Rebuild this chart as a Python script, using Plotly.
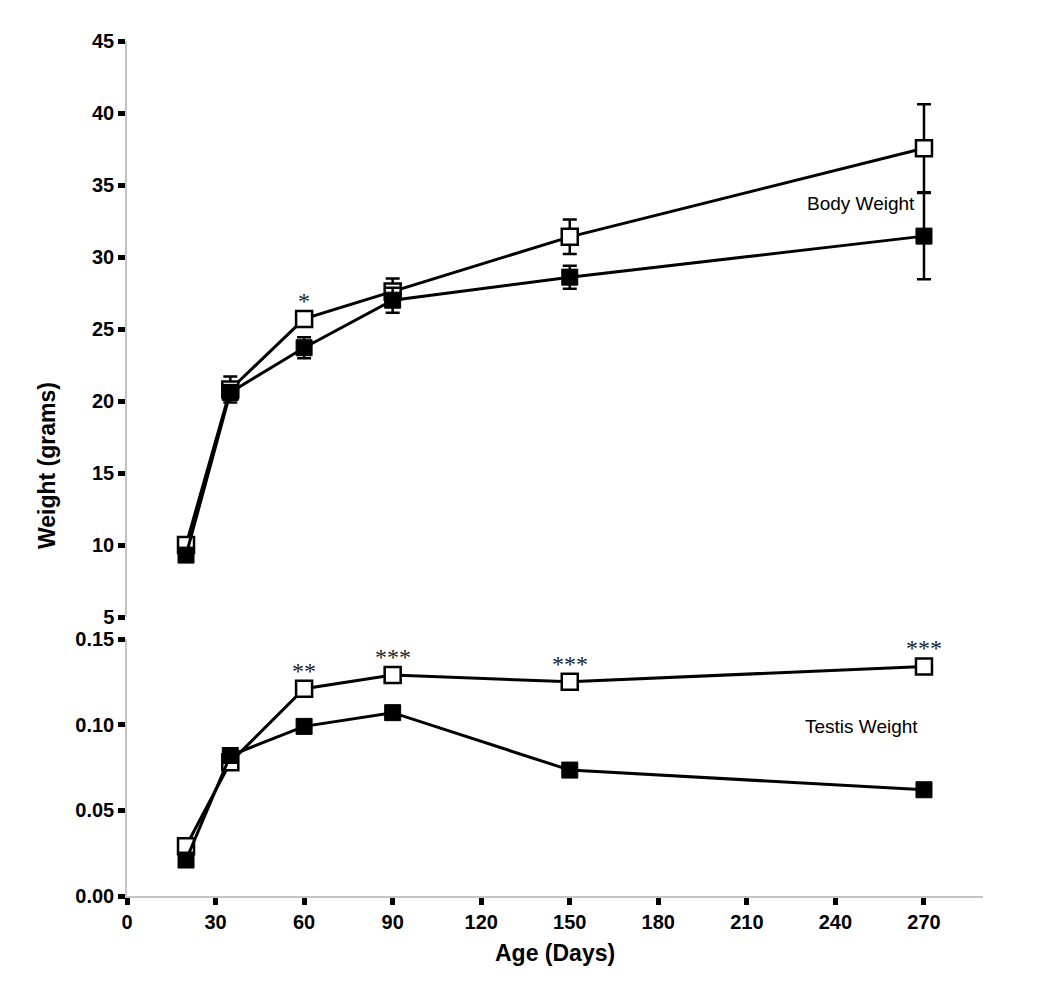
import plotly.graph_objects as go
from plotly.subplots import make_subplots

# age in days
ages = [20, 35, 60, 90, 150, 270]

# body weight (grams), open = white squares, filled = black squares
body_open = [10.0, 20.8, 25.7, 27.6, 31.4, 37.55]
body_open_err = [0.3, 0.9, 0.4, 0.9, 1.2, 3.05]
body_filled = [9.3, 20.6, 23.7, 27.0, 28.6, 31.45]
body_filled_err = [0.4, 0.5, 0.73, 0.87, 0.8, 3.0]

# testis weight (grams)
testis_open = [0.029, 0.078, 0.121, 0.129, 0.125, 0.134]
testis_filled = [0.021, 0.082, 0.099, 0.107, 0.0735, 0.062]

# significance marks (placed over the open series)
body_stars = {60: "*"}
testis_stars = {60: "**", 90: "***", 150: "***", 270: "***"}

x_ticks = [0, 30, 60, 90, 120, 150, 180, 210, 240, 270]
body_ticks = [5, 10, 15, 20, 25, 30, 35, 40, 45]
testis_ticks = [0.0, 0.05, 0.10, 0.15]

FONT = "Liberation Sans, Arial, Helvetica, sans-serif"
W, H = 1050, 989
OFF = 8  # page body margin in the browser
# plot area in pixels (as seen on the page): top 41, bottom 896, left 127, right 983
top_px, bot_px = 41, 896
left_px, right_px = 127, 983
area_h = bot_px - top_px


def py(y):
    # pixel row -> paper fraction
    return (bot_px - y) / area_h


def px_(x):
    return (x - left_px) / (right_px - left_px)


fig = make_subplots(rows=2, cols=1, shared_xaxes=True, vertical_spacing=0.02)

open_marker = dict(symbol="square", size=16, color="white", line=dict(color="black", width=2.5))
filled_marker = dict(symbol="square", size=16, color="black", line=dict(color="black", width=1))
line = dict(color="black", width=3)

fig.add_trace(go.Scatter(
    x=ages, y=body_open, mode="lines+markers", line=line, marker=open_marker,
    error_y=dict(type="data", array=body_open_err, color="black", thickness=2.5, width=7),
    showlegend=False), row=1, col=1)
fig.add_trace(go.Scatter(
    x=ages, y=body_filled, mode="lines+markers", line=line, marker=filled_marker,
    error_y=dict(type="data", array=body_filled_err, color="black", thickness=2.5, width=7),
    showlegend=False), row=1, col=1)

fig.add_trace(go.Scatter(
    x=ages, y=testis_open, mode="lines+markers", line=line, marker=open_marker,
    showlegend=False), row=2, col=1)
fig.add_trace(go.Scatter(
    x=ages, y=testis_filled, mode="lines+markers", line=line, marker=filled_marker,
    showlegend=False), row=2, col=1)

tickfont = dict(family=FONT, size=20, color="black", weight="bold")
axis_common = dict(showgrid=False, zeroline=False, showline=True, linecolor="#c4c4c4", linewidth=1.5,
                   ticks="outside", ticklen=7, tickwidth=5, tickcolor="black", tickfont=tickfont)

fig.update_yaxes(range=[5, 45], tickvals=body_ticks, domain=[py(617), 1.0], **axis_common, row=1, col=1)
fig.update_yaxes(range=[0, 0.15], tickvals=testis_ticks, tickformat=".2f", domain=[0.0, py(639)],
                 **axis_common, row=2, col=1)
fig.update_xaxes(range=[0, 290], showline=False, showticklabels=False, ticks="", showgrid=False,
                 zeroline=False, row=1, col=1)
fig.update_xaxes(range=[0, 290], tickvals=x_ticks, **axis_common, row=2, col=1)

star_font = dict(family="Liberation Serif, Times New Roman, serif", size=24, color="#222222")
for x, s in body_stars.items():
    fig.add_annotation(x=x, y=body_open[ages.index(x)], text=s, showarrow=False, xref="x", yref="y",
                       yanchor="bottom", yshift=3, font=star_font)
for x, s in testis_stars.items():
    fig.add_annotation(x=x, y=testis_open[ages.index(x)], text=s, showarrow=False, xref="x2", yref="y2",
                       yanchor="bottom", yshift=3, font=star_font)

label_font = dict(family=FONT, size=19, color="black")
fig.add_annotation(x=267.5, y=33.75, text="Body Weight", showarrow=False, xref="x", yref="y",
                   xanchor="right", font=label_font)
fig.add_annotation(x=268.5, y=0.0992, text="Testis Weight", showarrow=False, xref="x2", yref="y2",
                   xanchor="right", font=label_font)

title_font = dict(family=FONT, size=23, color="black", weight="bold")
fig.add_annotation(x=px_(47), y=py(466), xref="paper", yref="paper", text="Weight (grams)",
                   textangle=-90, showarrow=False, xanchor="center", yanchor="middle", font=title_font)
fig.add_annotation(x=px_(555), y=py(953), xref="paper", yref="paper", text="Age (Days)",
                   showarrow=False, xanchor="center", yanchor="middle", font=title_font)

fig.update_layout(
    width=W, height=H,
    margin=dict(l=left_px - OFF, r=W - right_px + OFF, t=top_px - OFF, b=H - bot_px + OFF),
    plot_bgcolor="white", paper_bgcolor="white",
    font=dict(family=FONT, color="black"),
)

fig.write_html("out.html")
